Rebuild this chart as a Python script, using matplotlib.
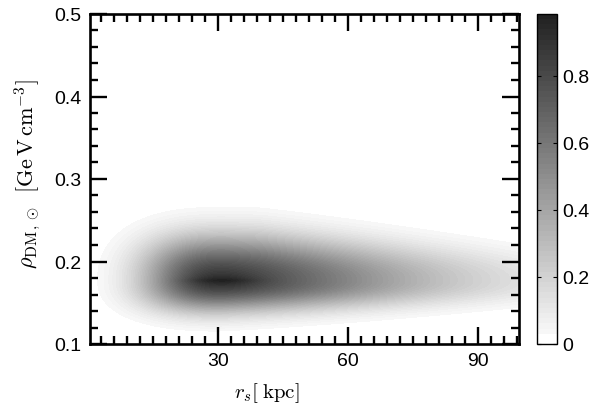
import numpy as np
import matplotlib
matplotlib.use("Agg")
import matplotlib.pyplot as plt
from matplotlib.colors import ListedColormap

# ---- values ----
peak_rs = 31.0            # kpc, location of the posterior maximum
peak_rho = 0.177          # GeV cm^-3
peak_value = 0.985
core_weight = 0.15        # share of the sharp central ridge
core_rs_sigma = 6.0
core_rho_scale = 0.007
rs_sigma_left = 13.5      # broad part: fall-off towards small r_s
rs_power_left = 2.5
rs_scale_right = 31.0     # broad part: long tail towards large r_s
rs_power_right = 1.6
rho_sigma_up = 0.039      # broad part: width above the peak
rho_sigma_up_slope = 0.0002
rho_sigma_down = 0.027
rho_sigma_down_slope = 0.0001
rho_power = 2.3

xlim = (0.5, 99.5)
ylim = (0.1, 0.5)
xticks = [30, 60, 90]
yticks = [0.1, 0.2, 0.3, 0.4, 0.5]
ytick_labels = ["0.1", "0.2", "0.3", "0.4", "0.5"]
cbar_ticks = [0, 0.2, 0.4, 0.6, 0.8]
cbar_labels = ["0", "0.2", "0.4", "0.6", "0.8"]

# ---- density field ----
rs = np.linspace(xlim[0], xlim[1], 400)
rho = np.linspace(ylim[0], ylim[1], 400)
X, Y = np.meshgrid(rs, rho)

dx = X - peak_rs
dy = Y - peak_rho
fx = np.where(dx < 0,
              np.exp(-0.5 * (np.abs(dx) / rs_sigma_left) ** rs_power_left),
              np.exp(-0.5 * (np.abs(dx) / rs_scale_right) ** rs_power_right))
s_up = rho_sigma_up - rho_sigma_up_slope * np.clip(X - 40, 0, None)
s_dn = rho_sigma_down - rho_sigma_down_slope * np.clip(X - 30, 0, None)
sy = np.where(dy > 0, s_up, s_dn)
gy = np.exp(-0.5 * (np.abs(dy) / sy) ** rho_power)
core = np.exp(-0.5 * (dx / core_rs_sigma) ** 2 - np.abs(dy) / core_rho_scale)
Z = peak_value * ((1 - core_weight) * fx * gy + core_weight * core)

# ---- colormap: white for the lowest bands, then greys ----
n = 64
g = np.concatenate([[1.0, 1.0], np.linspace(0.97, 0.13, n - 2)])
cmap = ListedColormap(np.column_stack([g, g, g]))

plt.rcParams["font.family"] = ["Liberation Sans", "DejaVu Sans"]
plt.rcParams["mathtext.fontset"] = "cm"

fig = plt.figure(figsize=(5.94, 4.10), dpi=100)
ax = fig.add_axes([90 / 594, 1 - 345 / 410, 429 / 594, 330 / 410])
levels = np.linspace(0, peak_value, n + 1)
cs = ax.contourf(X, Y, Z, levels=levels, cmap=cmap, vmin=0, vmax=peak_value)

ax.set_xlim(*xlim)
ax.set_ylim(*ylim)
ax.set_xticks(xticks)
ax.set_xticklabels([str(t) for t in xticks])
ax.set_xticks(np.arange(3, 100, 3), minor=True)
ax.set_yticks(yticks)
ax.set_yticklabels(ytick_labels)
ax.set_yticks(np.arange(0.1, 0.5, 0.02), minor=True)
ax.tick_params(which="both", direction="in", top=True, right=True,
               labelsize=14, width=1.7, pad=6)
ax.tick_params(which="major", length=12)
ax.tick_params(which="minor", length=5.5)
for s in ax.spines.values():
    s.set_linewidth(1.9)

ax.set_xlabel(r"$r_s[\;{\rm kpc}]$", fontsize=15)
ax.xaxis.set_label_coords(0.413, -0.145)
ax.xaxis.label.set_va("center")
ax.set_ylabel(r"$\rho_{\rm DM\,,\odot}\;\;[{\rm Ge\,V\,cm^{-3}}]$", fontsize=16)
ax.yaxis.set_label_coords(-0.145, 0.518)
ax.yaxis.label.set_va("center")

cax = fig.add_axes([537 / 594, 1 - 345 / 410, 20 / 594, 330 / 410])
cb = fig.colorbar(cs, cax=cax, ticks=cbar_ticks)
cb.ax.set_yticklabels(cbar_labels)
cb.ax.tick_params(direction="in", length=3, width=0.8, labelsize=14, left=True, right=True)
cb.outline.set_linewidth(1.0)
cb.ax.set_ylim(0, peak_value)

fig.savefig("out.png", dpi=100)
